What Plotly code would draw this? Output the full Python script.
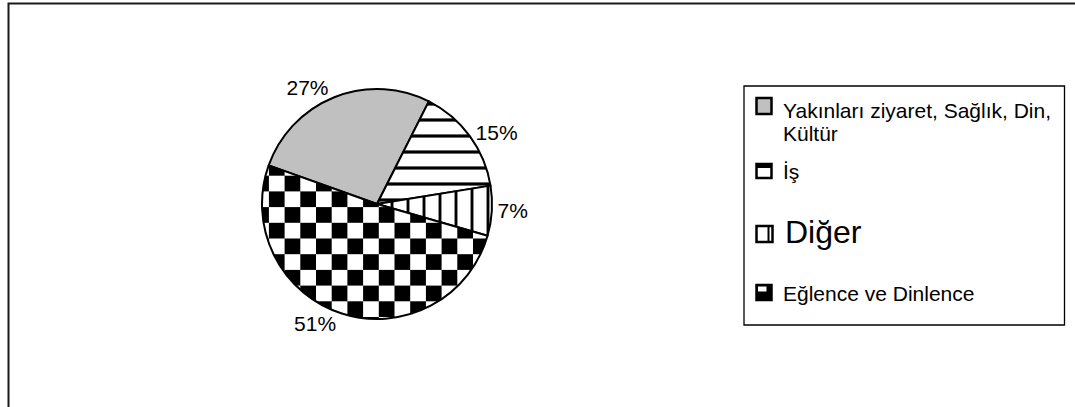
import plotly.graph_objects as go

# Trip purposes and their shares (%)
categories = ["Yakınları ziyaret, Sağlık, Din, Kültür", "İş", "Diğer", "Eğlence ve Dinlence"]
legend_lines = [["Yakınları ziyaret, Sağlık, Din,", "Kültür"], ["İş"], ["Diğer"], ["Eğlence ve Dinlence"]]
shares = [27, 15, 7, 51]

W, H = 1075, 407
FONT = "Liberation Sans, Arial, Helvetica, sans-serif"


def px(x):
    return x / W


def py(y):
    return 1 - y / H


# pie placement (pixels): centre and radius
CX, CY, R = 377, 204, 115

pie = go.Pie(
    labels=categories,
    values=shares,
    sort=False,
    direction="clockwise",
    rotation=-70.4,
    domain=dict(x=[px(CX - R), px(CX + R)], y=[py(CY + R), py(CY - R)]),
    marker=dict(
        colors=["#c0c0c0", "#ffffff", "#ffffff", "#ffffff"],
        line=dict(color="#000000", width=2),
        pattern=dict(
            shape=["", "-", "|", "+"],
            size=[16, 16, 16, 31],
            solidity=[0.0, 0.2, 0.18, 0.5],
            fgcolor="#000000",
            fgopacity=1,
            bgcolor=["#c0c0c0", "#ffffff", "#ffffff", "#ffffff"],
            fillmode="replace",
        ),
    ),
    textinfo="percent",
    textposition="outside",
    outsidetextfont=dict(family=FONT, size=21, color="#000000"),
    showlegend=False,
    hoverinfo="label+percent",
)

fig = go.Figure(pie)

shapes = []
# outer frame (runs off the right and bottom edges)
shapes.append(dict(type="rect", xref="paper", yref="paper",
                   x0=px(8.5), x1=px(W + 10), y0=py(H + 10), y1=py(3.5),
                   line=dict(color="#1a1a1a", width=2), fillcolor="rgba(0,0,0,0)", layer="below"))
# legend box
LX0, LY0, LX1, LY1 = 744, 86, 1064.5, 325
shapes.append(dict(type="rect", xref="paper", yref="paper",
                   x0=px(LX0), x1=px(LX1), y0=py(LY1), y1=py(LY0),
                   line=dict(color="#000000", width=1.3), fillcolor="#ffffff", layer="below"))


def box(x0, y0, x1, y1, fill, lw=2.5, line="#000000"):
    return dict(type="rect", xref="paper", yref="paper",
                x0=px(x0), x1=px(x1), y0=py(y1), y1=py(y0),
                line=dict(color=line, width=lw), fillcolor=fill)


# legend swatches
ix0, ix1 = 756.5, 771.5
# 1: plain grey
shapes.append(box(ix0, 98, ix1, 114, "#c0c0c0"))
# 2: white with heavy top edge
shapes.append(box(ix0, 164, ix1, 178, "#ffffff"))
shapes.append(box(ix0, 164, ix1, 168, "#000000", lw=0))
# 3: white with a double right edge
shapes.append(box(ix0, 226, ix1 + 1, 242, "#ffffff"))
shapes.append(box(ix1 - 4, 226, ix1 - 2, 242, "#000000", lw=0))
# 4: black with a white upper-left block
shapes.append(box(ix0, 285, ix1, 300, "#000000"))
shapes.append(box(ix0 + 1.5, 286.5, ix0 + 10, 291.5, "#ffffff", lw=0))

fig.update_layout(shapes=shapes)

# legend texts (one annotation per text line)
text_x = [781, 781, 783, 781]
text_y = [[110, 134], [172], [232], [293]]
text_size = [21, 21, 32, 21]
for lines, xs, ys, s in zip(legend_lines, text_x, text_y, text_size):
    for t, y in zip(lines, ys):
        fig.add_annotation(x=px(xs), y=py(y), xref="paper", yref="paper",
                           text=t, showarrow=False, xanchor="left", yanchor="middle",
                           align="left", font=dict(family=FONT, size=s, color="#000000"))

fig.update_layout(
    width=W, height=H,
    margin=dict(l=0, r=0, t=0, b=0),
    paper_bgcolor="#ffffff",
    plot_bgcolor="#ffffff",
    font=dict(family=FONT, color="#000000"),
)

# checkerboard fill for the last slice
checker_js = """
var gd = document.getElementById('{plot_id}');
var ns = 'http://www.w3.org/2000/svg';
var svg = gd.querySelector('svg.main-svg');
var defs = svg.querySelector('defs');
var s = 15.7;
var pat = document.createElementNS(ns, 'pattern');
pat.setAttribute('id', 'checker-fill');
pat.setAttribute('patternUnits', 'userSpaceOnUse');
pat.setAttribute('x', 2); pat.setAttribute('y', 3);
pat.setAttribute('width', 2 * s);
pat.setAttribute('height', 2 * s);
var cells = [[0, 0, 2 * s, 2 * s, '#ffffff'], [s, 0, s, s, '#000000'], [0, s, s, s, '#000000']];
cells.forEach(function (c) {
  var r = document.createElementNS(ns, 'rect');
  r.setAttribute('x', c[0]); r.setAttribute('y', c[1]);
  r.setAttribute('width', c[2]); r.setAttribute('height', c[3]);
  r.setAttribute('fill', c[4]);
  pat.appendChild(r);
});
defs.appendChild(pat);
var slices = gd.querySelectorAll('g.slice path.surface');
if (slices.length > 3) { slices[3].style.fill = "url('#checker-fill')"; }
"""

fig.write_html("out.html", post_script=checker_js)
